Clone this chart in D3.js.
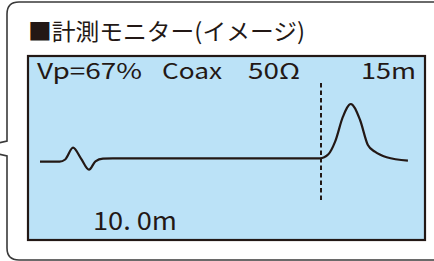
<!DOCTYPE html>
<html lang="ja">
<head>
  <meta charset="utf-8">
  <title>計測モニター</title>
  <script src="https://cdn.jsdelivr.net/npm/d3@7"></script>
  <style>
    html, body { margin: 0; padding: 0; background: #fff; }
    text { font-family: "Noto Sans CJK JP", "Noto Sans", sans-serif; fill: #231815; }
  </style>
</head>
<body>
  <script>
    // data (distance in m, reflection level in px-ish units)
    const titleText = "■計測モニター(イメージ)";
    const infoLabels = ["Vp=67%", "Coax", "50Ω", "15m"];
    const cursorM = 10.0;
    const cursorLabel = "10. 0m";
    const distM = [0, 0.7, 0.9, 1.18, 1.46, 1.75, 1.98, 2.25, 2.6, 10.0, 10.3, 10.54, 10.82, 11.1, 11.43, 11.71, 11.96, 12.38, 13.14];
    const level = [-3.4, -3.4, -1.2, 10.6, 0, -11.4, -3, -0.3, 0, 0, 4, 16.6, 41.6, 54.3, 38.3, 13.3, 6.6, 1, -2.4];

    const width = 434, height = 261;
    const ink = "#231815";

    const svg = d3.select("body").append("svg")
      .attr("width", width).attr("height", height);

    // outer callout frame (tail pointing left, right side runs off the picture)
    svg.append("path")
      .attr("d", "M445,2 L19,2 Q7,2 7,14 L7,141 L-2,143 M-2,154 L7,156 L7,248 Q7,260 19,260 L445,260")
      .attr("fill", "none").attr("stroke", "#3a3a3a").attr("stroke-width", 1.6);

    svg.append("text").text(titleText)
      .attr("x", 28).attr("y", 40)
      .attr("font-size", 23)
      .attr("textLength", 277).attr("lengthAdjust", "spacingAndGlyphs");

    // monitor screen
    const screen = { x: 28, y: 56, w: 397, h: 184 };
    svg.append("rect")
      .attr("x", screen.x).attr("y", screen.y)
      .attr("width", screen.w).attr("height", screen.h)
      .attr("fill", "#bbe2f7").attr("stroke", ink).attr("stroke-width", 2.2);

    // header line of the monitor: start x and drawn width of each label
    const infoX = [37, 162, 248, 361];
    const infoW = [105, 60, 52, 55];
    svg.selectAll("text.info").data(infoLabels).join("text")
      .attr("class", "info")
      .text(d => d)
      .attr("x", (d, i) => infoX[i]).attr("y", 79)
      .attr("font-size", 22)
      .attr("textLength", (d, i) => infoW[i]).attr("lengthAdjust", "spacingAndGlyphs");

    // scales
    const xScale = d3.scaleLinear().domain([0, 10]).range([40, 320]);
    const yScale = d3.scaleLinear().domain([0, 50]).range([158.3, 108.3]);

    // cursor
    svg.append("line")
      .attr("x1", xScale(cursorM) + 1).attr("x2", xScale(cursorM) + 1)
      .attr("y1", 83).attr("y2", 202)
      .attr("stroke", ink).attr("stroke-width", 2)
      .attr("stroke-dasharray", "4.5,3");

    // waveform
    const pts = distM.map((d, i) => [d, level[i]]);
    const line = d3.line()
      .x(d => xScale(d[0])).y(d => yScale(d[1]))
      .curve(d3.curveMonotoneX);
    svg.append("path").datum(pts)
      .attr("d", line)
      .attr("fill", "none").attr("stroke", ink)
      .attr("stroke-width", 2.2).attr("stroke-linejoin", "round");

    svg.append("text").text(cursorLabel)
      .attr("x", 93).attr("y", 230)
      .attr("font-size", 24.5)
      .attr("textLength", 84).attr("lengthAdjust", "spacingAndGlyphs");
  </script>
</body>
</html>
